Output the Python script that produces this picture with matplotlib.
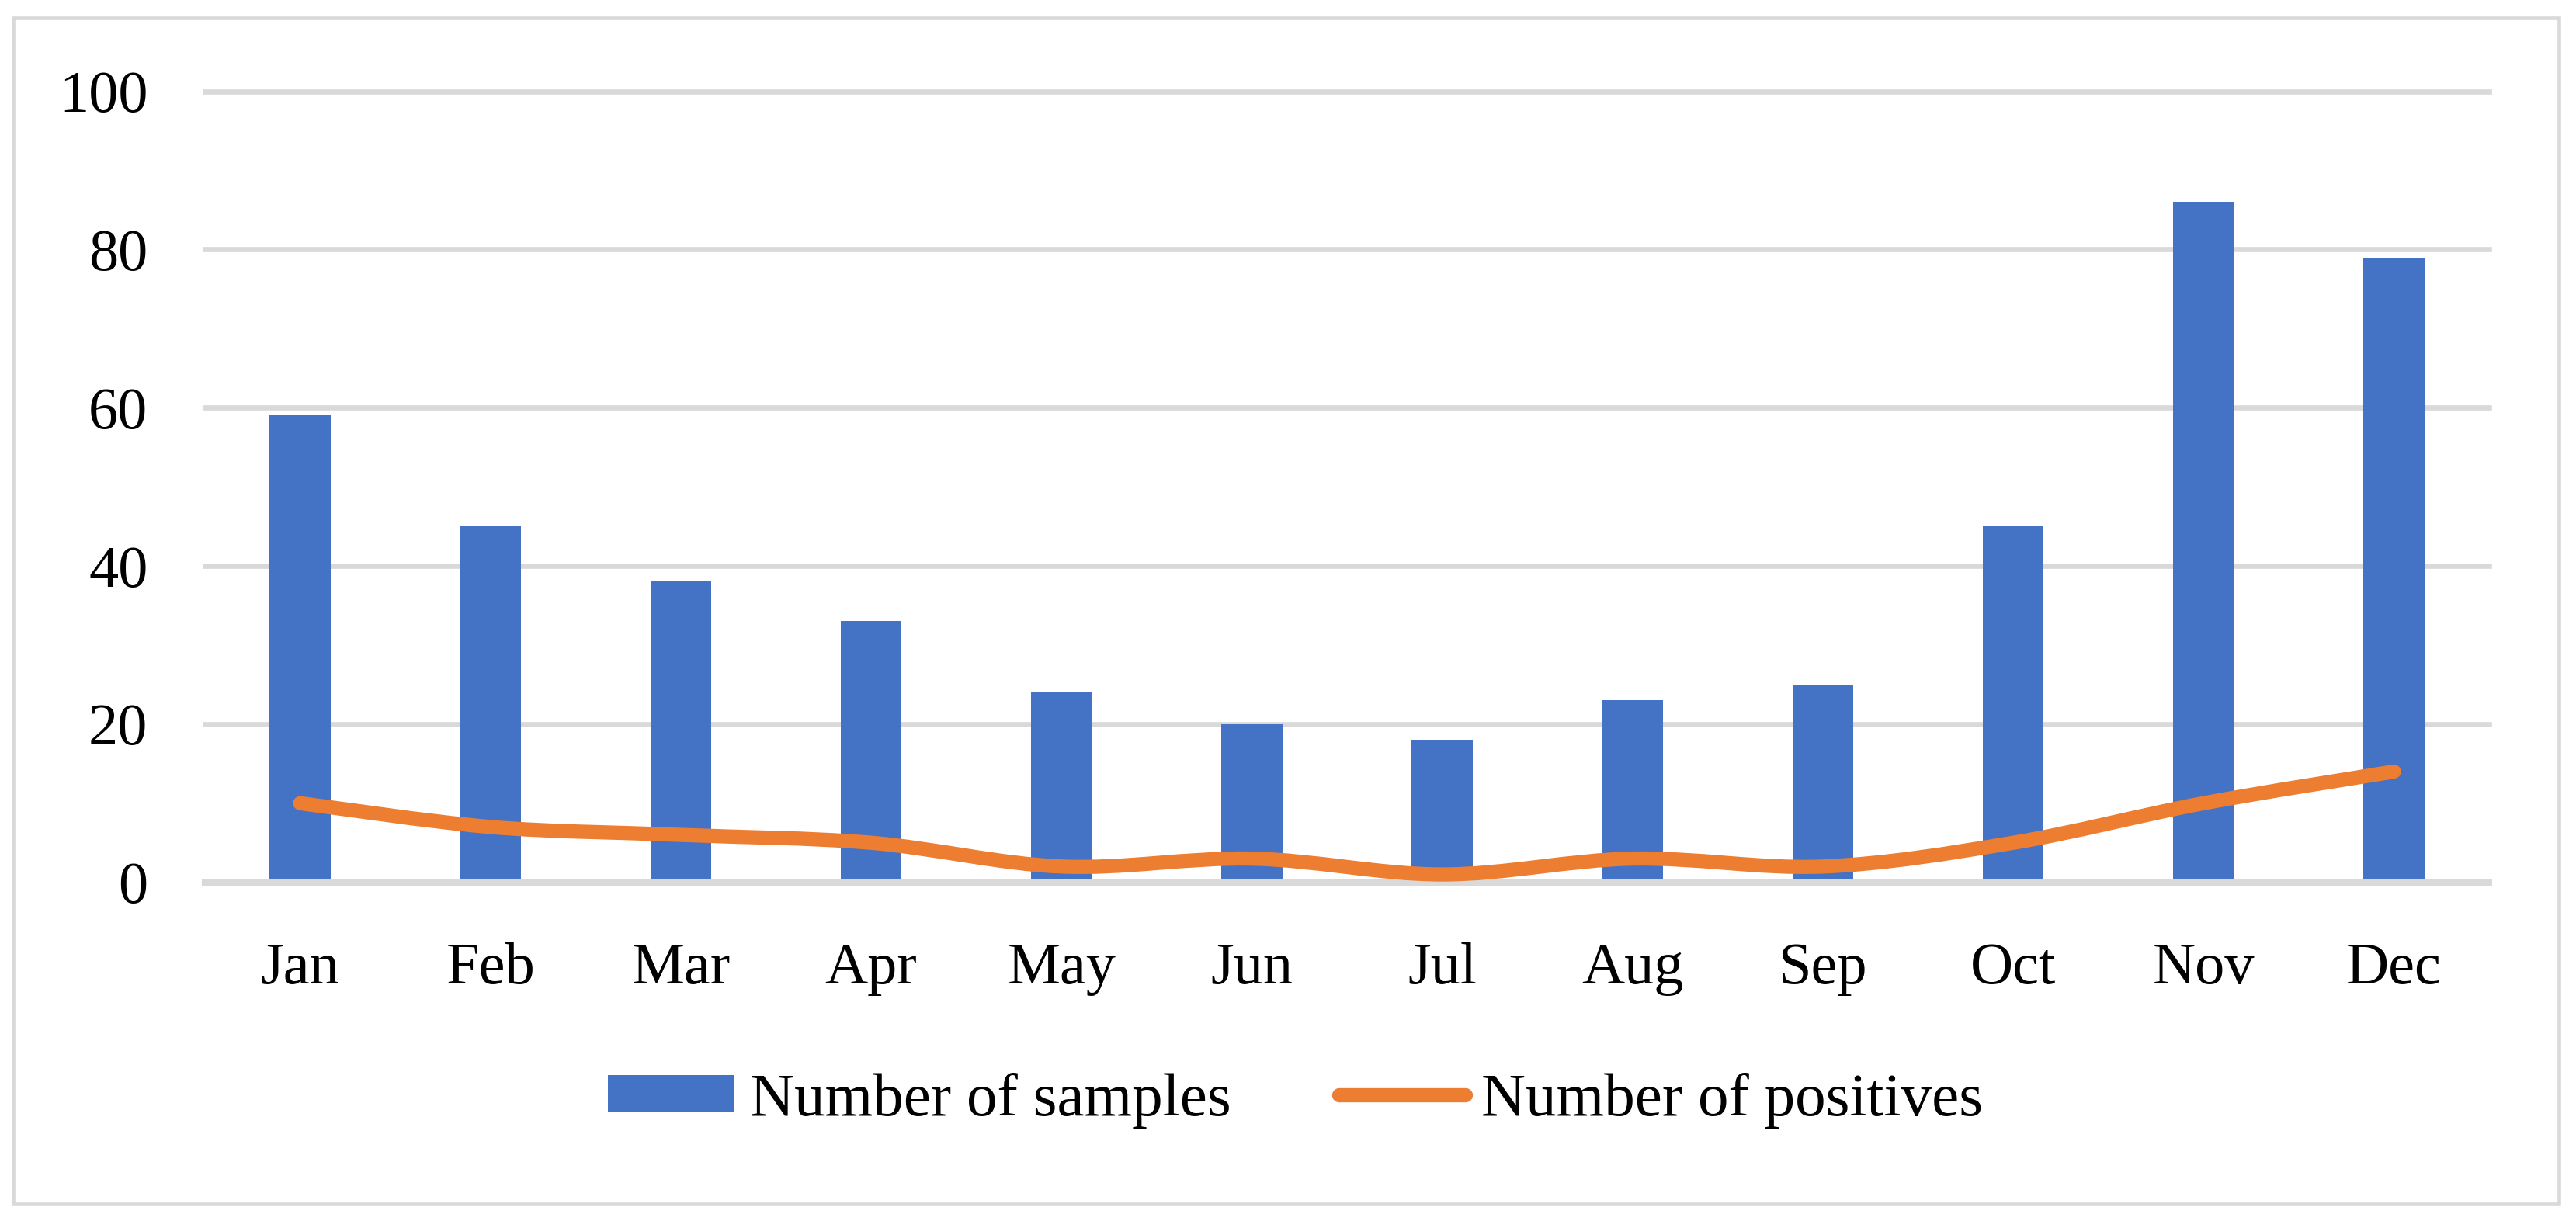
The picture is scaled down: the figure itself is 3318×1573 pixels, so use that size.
import numpy as np
import matplotlib
matplotlib.use('Agg')
import matplotlib.pyplot as plt
from matplotlib.path import Path
from matplotlib.patches import PathPatch, Rectangle, Patch
from matplotlib.lines import Line2D

months = ['Jan', 'Feb', 'Mar', 'Apr', 'May', 'Jun', 'Jul', 'Aug', 'Sep', 'Oct', 'Nov', 'Dec']
samples = [59, 45, 38, 33, 24, 20, 18, 23, 25, 45, 86, 79]
positives = [10, 7, 6, 5, 2, 3, 1, 3, 2, 5, 10, 14]
yticks = [0, 20, 40, 60, 80, 100]

BLUE = '#4472C4'
ORANGE = '#ED7D31'
GRID = '#D9D9D9'

plt.rcParams['font.family'] = ['Liberation Serif', 'DejaVu Serif']


def smooth_path(xs, ys):
    # excel-like smoothed line: cubic bezier through every point
    p = np.column_stack([xs, ys]).astype(float)
    n = len(p)
    verts = [p[0]]
    codes = [Path.MOVETO]
    for i in range(n - 1):
        p0 = p[i - 1] if i > 0 else p[i]
        p3 = p[i + 2] if i + 2 < n else p[i + 1]
        c1 = p[i] + (p[i + 1] - p0) / 6.0
        c2 = p[i + 1] - (p3 - p[i]) / 6.0
        verts += [c1, c2, p[i + 1]]
        codes += [Path.CURVE4] * 3
    return Path(verts, codes)


fig = plt.figure(figsize=(33.18, 15.73), dpi=100)
ax = fig.add_axes([264 / 3318, 1 - 1136.7 / 1573, (3206 - 264) / 3318, (1136.7 - 117.5) / 1573])

x = np.arange(len(months))
ax.bar(x, samples, width=0.32, color=BLUE, zorder=2)
ax.add_patch(PathPatch(smooth_path(x, positives), facecolor='none', edgecolor=ORANGE,
                       lw=13.2, capstyle='round', joinstyle='round', zorder=4, clip_on=False))

ax.set_xlim(-0.5, len(months) - 0.5)
ax.set_ylim(0, 100)
ax.set_yticks(yticks)
ax.set_xticks(x)
ax.set_xticklabels(months)
ax.yaxis.grid(True, color=GRID, lw=4.8)
ax.set_axisbelow(True)
for gl in ax.get_ygridlines():
    gl.set_clip_on(False)
ax.axhline(0, color=GRID, lw=5.8, zorder=3, clip_on=False)
for s in ax.spines.values():
    s.set_visible(False)
ax.tick_params(axis='both', length=0, labelsize=55)
ax.tick_params(axis='y', pad=53)
ax.tick_params(axis='x', pad=56)

handles = [Patch(facecolor=BLUE, edgecolor='none'),
           Line2D([], [], color=ORANGE, lw=13.2, solid_capstyle='round')]
fig.legend(handles, ['Number of samples', 'Number of positives'], loc='center',
           bbox_to_anchor=(0.503, 0.0985), ncol=2, frameon=False, fontsize=57,
           handlelength=2.05, handleheight=0.57, handletextpad=0.26, columnspacing=1.76)

fig.patches.append(Rectangle((17 / 3318, 1 - 1551 / 1573), (3296 - 17) / 3318, (1551 - 23) / 1573,
                             transform=fig.transFigure, fill=False, ec=GRID, lw=3.3))

fig.savefig('out.png', dpi=100)
